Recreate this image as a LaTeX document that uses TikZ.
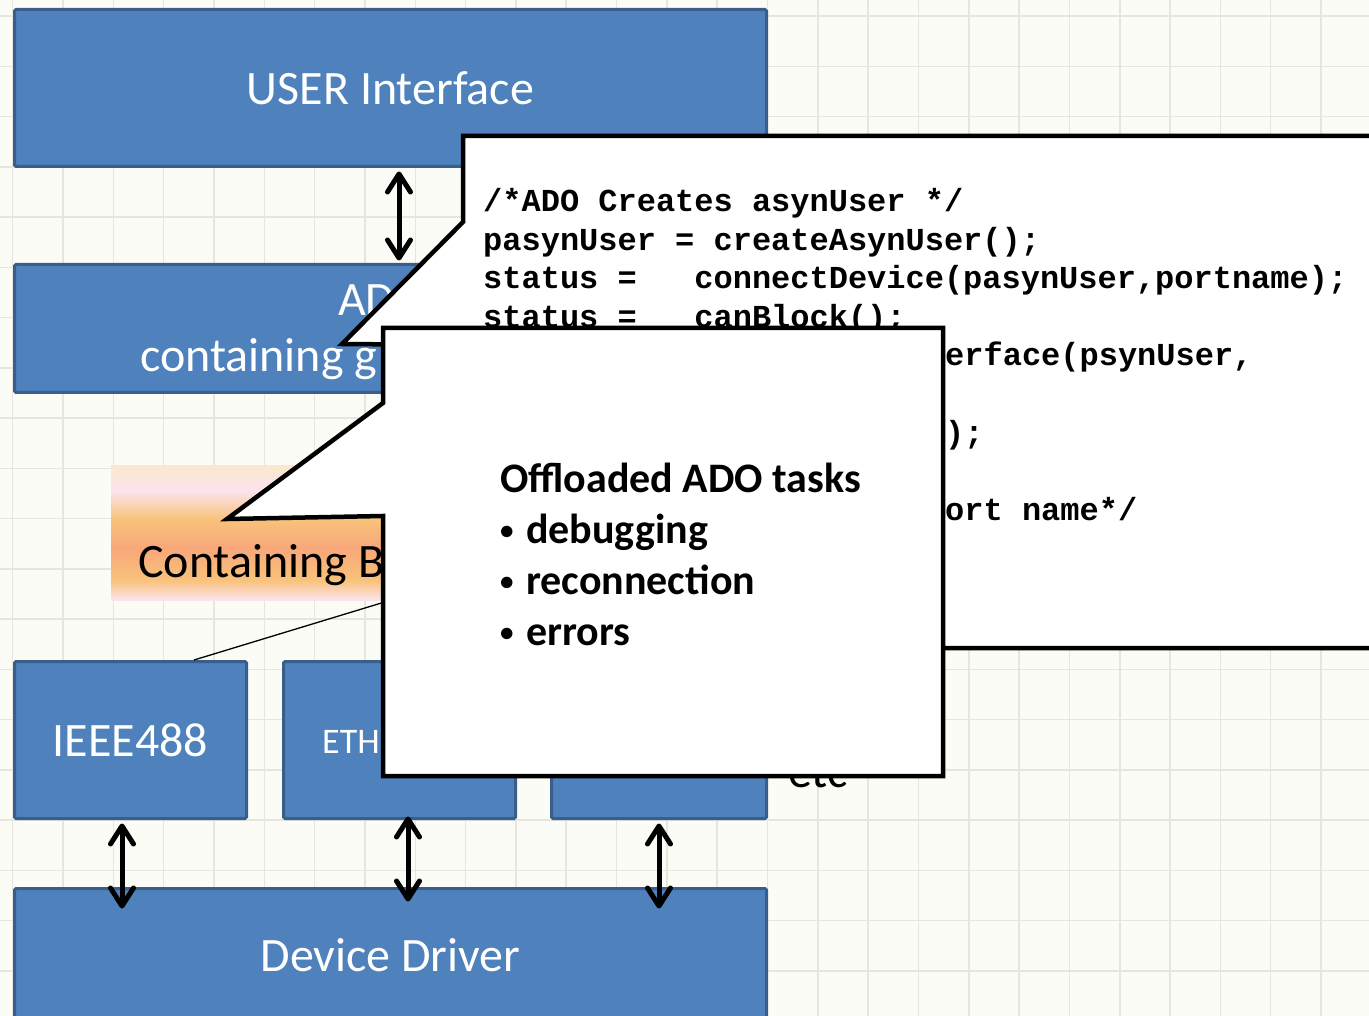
\documentclass[tikz,border=0pt]{standalone}
\usepackage{fontspec}
\setmainfont{Carlito}
\newfontfamily\codefont{Liberation Mono}
\usetikzlibrary{arrows.meta,calc}
\definecolor{bgc}{HTML}{FCFCF7}
\definecolor{gridc}{HTML}{E6E6DF}
\definecolor{boxfill}{HTML}{4F81BD}
\definecolor{boxline}{HTML}{3A5E8C}
\definecolor{peach}{HTML}{FBE8CB}
\definecolor{pinkish}{HTML}{FCE3EE}
\definecolor{orangeA}{HTML}{F9C27A}
\definecolor{salmon}{HTML}{F7A77A}
\pgfdeclareverticalshading{fireshade}{100bp}{color(0bp)=(pinkish); color(25bp)=(pinkish); color(32.4bp)=(orangeA); color(44.3bp)=(salmon); color(54.6bp)=(orangeA); color(65.7bp)=(pinkish); color(75bp)=(peach); color(100bp)=(peach)}
\newcommand{\smbul}{\makebox[26pt][l]{\raisebox{4pt}{\fontsize{27}{27}\selectfont •}}}
\tikzset{
  blk/.style={draw=boxline, fill=boxfill, line width=3pt, rounded corners=1.5pt, inner sep=0pt, text=white, font=\fontsize{48}{56}\selectfont},
  wtxt/.style={anchor=base west, inner sep=0pt, text=white, font=\fontsize{48}{56}\selectfont},
  btxt/.style={anchor=base west, inner sep=0pt, text=black, font=\fontsize{48}{56}\selectfont},
  dbl/.style={line width=5pt, {Straight Barb[length=18pt,width=23pt,round]}-{Straight Barb[length=18pt,width=23pt,round]}},
  callout/.style={draw=black, fill=white, line width=4.5pt, line join=miter},
  codetxt/.style={anchor=base west, inner sep=0pt, font=\codefont\bfseries\fontsize{32}{38}\selectfont},
  tasktxt/.style={anchor=base west, inner sep=0pt, font=\bfseries\fontsize{42}{50}\selectfont},
}
\begin{document}
\begin{tikzpicture}[x=1pt,y=-1pt]
\useasboundingbox (0,0) rectangle (1369,1016);
\clip (0,0) rectangle (1369,1016);
\fill[bgc] (0,0) rectangle (1369,1016);
\foreach \i in {0,...,27} \draw[gridc, line width=1.5pt] ({12.7+50.32*\i},0) -- ++(0,1016);
\foreach \j in {0,...,20} \draw[gridc, line width=1.5pt] (0,{16+50.26*\j}) -- ++(1369,0);

% blue blocks
\node[blk, minimum width=752pt, minimum height=157pt] (user) at (390.5,88) {USER Interface};
\node[blk, minimum width=752pt, minimum height=128pt] (ado) at (390.5,328.5) {};
\node[wtxt] (adoa) at (338,316) {AD};
\node[wtxt] (adob) at (140,372) {containing g};
\node[blk, minimum width=232pt, minimum height=157pt] (ieee) at (130.5,740) {IEEE488};
\node[blk, minimum width=232pt, minimum height=157pt] (eth) at (399.5,740) {};
\node[wtxt, font=\fontsize{36}{42}\selectfont] (etht) at (322,753) {ETH};
\node[blk, minimum width=215pt, minimum height=157pt] (bx3) at (659,740) {};
\node[blk, minimum width=752pt, minimum height=133pt] (dd) at (390.5,955) {Device Driver};
\node[btxt] (etc) at (788,787) {etc};

% orange gradient block
\node[shade, shading=fireshade, minimum width=280pt, minimum height=135pt, inner sep=0pt] (cont) at (251,532.5) {};
\node[btxt] (contt) at (138,577) {Containing B};
\coordinate (tl) at (388,601);
\draw[line width=1.3pt] (tl) -- ([xshift=63.5pt]ieee.north);

% double arrows
\draw[dbl] ([xshift=8.5pt,yshift=-3.5pt]user.south) -- ([xshift=8.5pt,yshift=2.5pt]ado.north);
\draw[dbl] ([xshift=-8.5pt,yshift=-3.5pt]ieee.south) coordinate (a1) -- ($(a1 |- dd.north)+(0,21.5)$);
\draw[dbl] ([xshift=8.5pt,yshift=3.5pt]eth.south) coordinate (a2) -- ($(a2 |- dd.north)+(0,14.5)$);
\draw[dbl] ([yshift=-3.5pt]bx3.south) coordinate (a3) -- ($(a3 |- dd.north)+(0,21.5)$);

% callout 1 (code)
\draw[callout] (463,136) -- (1385,136) -- (1385,648) -- (463,648) -- (463,345) -- (342,344) -- (463,222) -- cycle;
\node[codetxt] (c1) at (483,212) {/*ADO Creates asynUser */};
\node[codetxt] (c2) at (483,250.5) {pasynUser = createAsynUser();};
\node[codetxt] (c3) at (483,289) {status =\ \ \ connectDevice(pasynUser,portname);};
\node[codetxt] (c4) at (483,327.5) {status =\ \ \ canBlock();};
\node[codetxt] (c5) at (945,366) {erface(psynUser,};
\node[codetxt] (c7) at (945,443) {);};
\node[codetxt] (c9) at (945,520) {ort name*/};

% callout 2 (tasks)
\draw[callout] (383,328) -- (943,328) -- (943,776) -- (383,776) -- (383,516) -- (227,519) -- (383,403) -- cycle;
\node[tasktxt] (t1) at (500,492) {Offloaded ADO tasks};
\node[tasktxt] (t2) at (500,543) {\smbul debugging};
\node[tasktxt] (t3) at (500,594) {\smbul reconnection};
\node[tasktxt] (t4) at (500,645) {\smbul errors};
\end{tikzpicture}
\end{document}
